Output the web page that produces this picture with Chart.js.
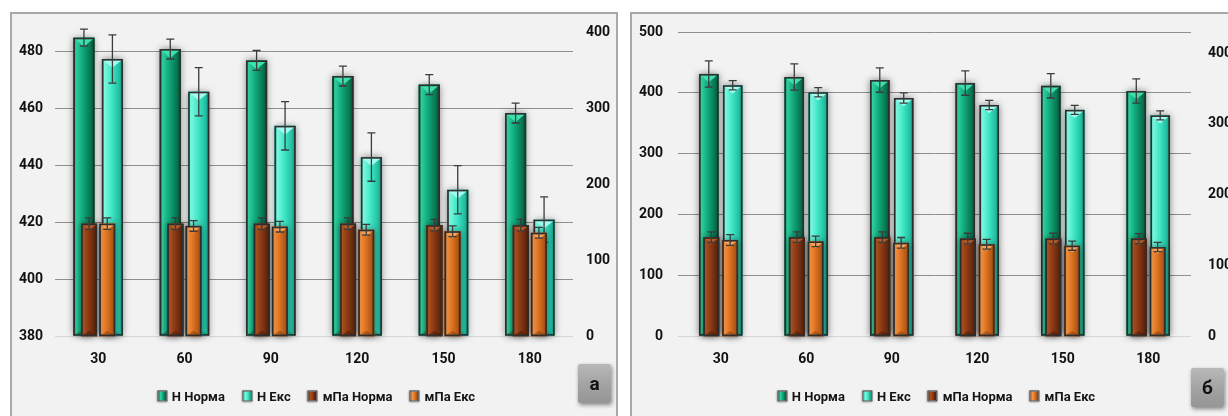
<!DOCTYPE html>
<html>
<head>
<meta charset="utf-8">
<script src="https://cdn.jsdelivr.net/npm/chart.js@4.4.1/dist/chart.umd.min.js"></script>
<style>
  html, body { margin: 0; padding: 0; background: #ffffff; }
  body { width: 1228px; height: 416px; position: relative; overflow: hidden;
         font-family: Roboto, "Noto Sans", sans-serif; }
  .panel { position: absolute; top: 12px; height: 420px; background: #f2f2f2;
           border: 2px solid #a9a9a9; box-sizing: content-box; }
  #panelA { left: 10px; width: 604px; }
  #panelB { left: 630px; width: 640px; }
  .panel canvas { position: absolute; left: 0; top: 0; }
  .legend { position: absolute; top: 396px; transform: translate(-50%, -50%);
            display: flex; align-items: center; white-space: nowrap;
            font: bold 13px Roboto, "Noto Sans", sans-serif; color: #151515; }
  .legend .item { display: flex; align-items: center; margin: 0 8.5px; }
  .legend .mark { width: 8px; height: 9px; margin-right: 5px;
                  border: 1px solid #3a3a3a; box-shadow: 0 0 2px rgba(0,0,0,0.45); }
  .tag { position: absolute; width: 33px; height: 39px; border-radius: 2px;
         background: linear-gradient(#b9b9b9, #a2a2a2 55%, #969696);
         box-shadow: 1px 2px 4px rgba(0,0,0,0.45);
         font: bold 19px Roboto, "Noto Sans", sans-serif; color: #111;
         display: flex; align-items: center; justify-content: center; }
</style>
</head>
<body>
<div id="panelA" class="panel"><canvas id="chartA" width="604" height="402"></canvas></div>
<div id="panelB" class="panel"><canvas id="chartB" width="620" height="402"></canvas></div>
<div id="legendA" class="legend" style="left:316px"></div>
<div id="legendB" class="legend" style="left:936px"></div>
<div class="tag" style="left:578px; top:364px">а</div>
<div class="tag" style="left:1191px; top:368px">б</div>

<script>
// Time points (x axis)
const categories = ['30', '60', '90', '120', '150', '180'];
const seriesNames = ['Н Норма', 'Н Екс', 'мПа Норма', 'мПа Екс'];

// Panel "а": Н on the left axis, мПа on the right axis
const aHNorma      = [485, 481, 477, 471.5, 468.5, 458.5];
const aHNormaErr   = [3, 3.5, 3.5, 3.5, 3.5, 3.5];
const aHEks        = [477.5, 466, 454, 443, 431.5, 421];
const aHEksErr     = [8.5, 8.5, 8.5, 8.5, 8.5, 8];
const aMpaNorma    = [148, 148, 148, 148, 146, 146];
const aMpaNormaErr = [7.5, 7.5, 7.5, 7.5, 7.5, 7.5];
const aMpaEks      = [148, 145, 144, 140, 138, 136];
const aMpaEksErr   = [7.5, 7, 7, 7, 7, 7];

// Panel "б"
const bHNorma      = [431, 426, 421, 416, 411.5, 403];
const bHNormaErr   = [21.5, 21.5, 20, 20, 20, 20];
const bHEks        = [412.5, 401, 391.5, 380, 372, 363];
const bHEksErr     = [7.5, 7.5, 8.5, 7.5, 7.5, 7.5];
const bMpaNorma    = [140, 140, 140, 138, 138, 138];
const bMpaNormaErr = [7.5, 7.5, 7.5, 7.5, 7.5, 7];
const bMpaEks      = [136, 134, 132, 130, 128, 126];
const bMpaEksErr   = [7.5, 7.5, 7.5, 7, 6.5, 6.5];

// Axis ranges and tick steps
const aLeftAxis  = { min: 380, max: 487, step: 20 };
const aRightAxis = { min: 0, max: 400, step: 100 };
const bLeftAxis  = { min: 0, max: 500, step: 100 };
const bRightAxis = { min: 0, max: 430, step: 100 };

// Bevel colours for each series
const palettes = [
  { base: '#10a87c', light: '#2fcf9e', mid: '#0fa87b', dark: '#08744f', deep: '#054d34', top: '#3ee0b0', bottom: 'rgba(0,60,40,0.35)' },
  { base: '#3fe6c7', light: '#7ef6df', mid: '#41e8c8', dark: '#22bfa2', deep: '#148a74', top: '#a2fbee', bottom: 'rgba(0,90,80,0.25)' },
  { base: '#8a3815', light: '#a8521f', mid: '#8c3a15', dark: '#62270c', deep: '#421806', top: '#b35a26', bottom: 'rgba(40,12,0,0.35)' },
  { base: '#df7425', light: '#f39545', mid: '#e07524', dark: '#b05716', deep: '#7c3b0c', top: '#f6a35a', bottom: 'rgba(90,40,0,0.35)' }
];

const FONT = { family: 'Roboto, "Noto Sans", sans-serif', size: 14, weight: 'bold' };

// Draws the bevelled bar look, soft shadow and error bars on top of each bar dataset
const bevelBars = {
  id: 'bevelBars',
  afterDatasetDraw(chart, args) {
    const ds = chart.data.datasets[args.index];
    const pal = ds.palette;
    const ctx = chart.ctx;
    const scale = chart.scales[ds.yAxisID];
    args.meta.data.forEach((bar, i) => {
      const p = bar.getProps(['x', 'y', 'base', 'width'], true);
      const l = p.x - p.width / 2, r = p.x + p.width / 2;
      const t = Math.min(p.y, p.base), b = Math.max(p.y, p.base);
      const w = r - l, h = b - t;

      ctx.save();
      ctx.shadowColor = 'rgba(0,0,0,0.5)';
      ctx.shadowBlur = 7;
      ctx.fillStyle = pal.mid;
      ctx.fillRect(l, t, w, h);
      ctx.restore();

      ctx.save();
      const g = ctx.createLinearGradient(l, 0, r, 0);
      g.addColorStop(0, pal.dark);
      g.addColorStop(0.12, pal.light);
      g.addColorStop(0.45, pal.mid);
      g.addColorStop(0.82, pal.dark);
      g.addColorStop(1, pal.deep);
      ctx.fillStyle = g;
      ctx.fillRect(l, t, w, h);

      const d = Math.min(w * 0.42, h / 2);
      ctx.beginPath();
      ctx.moveTo(l + 1, t + 1);
      ctx.lineTo(r - 1, t + 1);
      ctx.lineTo(p.x, t + d);
      ctx.closePath();
      ctx.fillStyle = pal.top;
      ctx.fill();

      ctx.beginPath();
      ctx.moveTo(l + 1, b - 1);
      ctx.lineTo(r - 1, b - 1);
      ctx.lineTo(p.x, b - d * 0.8);
      ctx.closePath();
      ctx.fillStyle = pal.bottom;
      ctx.fill();

      ctx.strokeStyle = '#2e2e2e';
      ctx.lineWidth = 1.6;
      ctx.strokeRect(l + 0.8, t + 0.8, w - 1.6, h - 1.6);
      ctx.restore();

      // error bar
      const v = ds.data[i], e = ds.errors[i];
      const y1 = scale.getPixelForValue(v + e), y2 = scale.getPixelForValue(v - e);
      const cap = 4;
      ctx.save();
      ctx.strokeStyle = '#3b3b3b';
      ctx.lineWidth = 1.3;
      ctx.beginPath();
      ctx.moveTo(p.x, y1); ctx.lineTo(p.x, y2);
      ctx.moveTo(p.x - cap, y1); ctx.lineTo(p.x + cap, y1);
      ctx.moveTo(p.x - cap, y2); ctx.lineTo(p.x + cap, y2);
      ctx.stroke();
      ctx.restore();
    });
  }
};

// vertical axes: fixed width, no extra room reserved for the end labels
function fixVertical(width) {
  return s => { s.width = width; s.paddingTop = 0; s.paddingBottom = 0; };
}

function makeChart(canvasId, legendId, opt) {
  const values = opt.values, errors = opt.errors;
  const datasets = seriesNames.map((name, k) => {
    const teal = k < 2;
    return {
      label: name,
      data: values[k],
      errors: errors[k],
      palette: palettes[k],
      backgroundColor: palettes[k].base,
      borderColor: '#2e2e2e',
      borderWidth: 1,
      // Норма / Екс share a slot; Н and мПа bars overlap within it
      stack: k % 2 === 0 ? 'norma' : 'eks',
      yAxisID: teal ? 'y' : 'y1',
      base: teal ? opt.left.min : opt.right.min,
      order: teal ? 2 : 1,
      categoryPercentage: teal ? opt.tealCat : opt.orangeCat,
      barPercentage: teal ? opt.tealBar : opt.orangeBar
    };
  });

  const chart = new Chart(document.getElementById(canvasId), {
    type: 'bar',
    data: { labels: categories, datasets },
    plugins: [bevelBars],
    options: {
      responsive: false,
      animation: false,
      devicePixelRatio: 1,
      layout: { padding: { left: 0, right: 0, top: 18, bottom: opt.padBottom } },
      plugins: { legend: { display: false }, tooltip: { enabled: false } },
      scales: {
        x: {
          type: 'category', offset: true,
          grid: { display: false, drawTicks: false }, border: { display: false },
          ticks: { font: FONT, color: '#111', padding: opt.xPad, maxRotation: 0 }
        },
        y: {
          position: 'left', min: opt.left.min, max: opt.left.max, stacked: false,
          grid: {
            drawTicks: false, lineWidth: 1,
            color: c => (c.tick && c.tick.value === opt.left.min) ? '#d6d6d6' : '#8f8f8f'
          },
          border: { display: false },
          ticks: { stepSize: opt.left.step, includeBounds: false, font: FONT, color: '#111', padding: opt.leftPad },
          afterFit: fixVertical(opt.leftWidth)
        },
        y1: {
          position: 'right', min: opt.right.min, max: opt.right.max, stacked: false,
          grid: { display: false, drawTicks: false }, border: { display: false },
          ticks: { stepSize: opt.right.step, includeBounds: false, font: FONT, color: '#111', padding: opt.rightPad },
          afterFit: fixVertical(opt.rightWidth)
        }
      }
    }
  });

  // legend built from the chart's own datasets
  const legend = document.getElementById(legendId);
  chart.data.datasets.forEach(ds => {
    const item = document.createElement('div');
    item.className = 'item';
    const mark = document.createElement('span');
    mark.className = 'mark';
    const p = ds.palette;
    mark.style.background = `linear-gradient(90deg, ${p.dark}, ${p.light} 25%, ${p.mid} 55%, ${p.deep})`;
    const txt = document.createElement('span');
    txt.textContent = ds.label;
    item.appendChild(mark);
    item.appendChild(txt);
    legend.appendChild(item);
  });
  return chart;
}

makeChart('chartA', 'legendA', {
  values: [aHNorma, aHEks, aMpaNorma, aMpaEks],
  errors: [aHNormaErr, aHEksErr, aMpaNormaErr, aMpaEksErr],
  left: aLeftAxis, right: aRightAxis,
  leftWidth: 43, rightWidth: 43, leftPad: 12, rightPad: 13, padBottom: 33, xPad: 15,
  tealCat: 0.66, tealBar: 0.74, orangeCat: 0.42, orangeBar: 0.88
});

makeChart('chartB', 'legendB', {
  values: [bHNorma, bHEks, bMpaNorma, bMpaEks],
  errors: [bHNormaErr, bHEksErr, bMpaNormaErr, bMpaEksErr],
  left: bLeftAxis, right: bRightAxis,
  leftWidth: 46, rightWidth: 61, leftPad: 15, rightPad: 17, padBottom: 33, xPad: 15,
  tealCat: 0.56, tealBar: 0.815, orangeCat: 0.44, orangeBar: 0.84
});
</script>
</body>
</html>
